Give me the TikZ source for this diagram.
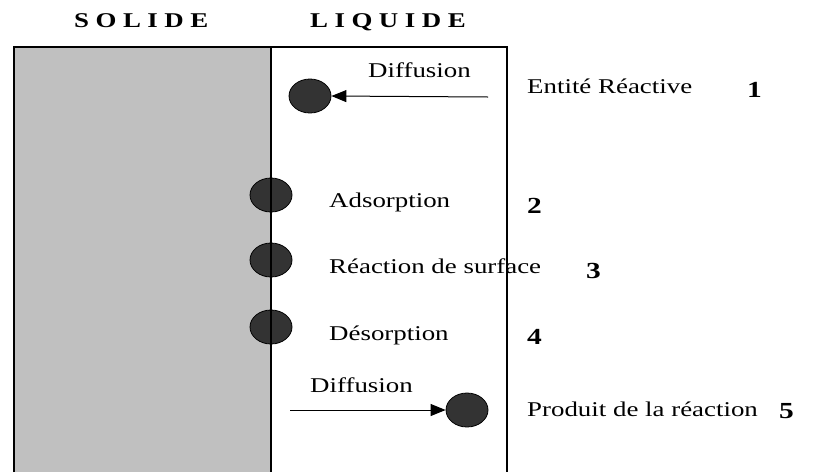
\documentclass[tikz,border=0pt]{standalone}
\usepackage{fontspec}
\setmainfont{Liberation Serif}[FakeStretch=1.28]
\usetikzlibrary{shapes.geometric,arrows.meta}
\definecolor{solidgrey}{HTML}{C0C0C0}
\definecolor{blob}{HTML}{333333}
\tikzset{
  particle/.style={ellipse,draw=black,line width=0.8pt,fill=blob,minimum width=42pt,minimum height=34pt,inner sep=0pt},
  lbl/.style={anchor=base west,inner sep=0pt,font=\fontsize{21}{24}\selectfont},
  num/.style={anchor=base west,inner sep=0pt,font=\fontsize{23}{26}\selectfont\bfseries},
  head/.style={anchor=base west,inner sep=0pt,font=\fontsize{21}{24}\selectfont\bfseries},
  wall/.style={line width=1.5pt,draw=black},
  flow/.style={line width=1pt,-{Triangle[length=15pt,width=12pt]}}
}
\newcommand{\gp}{\hspace{6.5pt}}
\begin{document}
\begin{tikzpicture}[x=1pt,y=-1pt]
\useasboundingbox (0,0) rectangle (821,472);
% solid phase
\fill[solidgrey] (14,47) rectangle (271,472);
% headers
\node[head] (hs) at (74,27) {S\gp O\gp L\gp I\gp D\gp E};
\node[head] (hl) at (310,27) {L\gp I\gp Q\gp U\gp I\gp D\gp E};
% particles
\node[particle] (e1) at (310,96) {};
\node[particle] (e2) at (271,195) {};
\node[particle] (e3) at (271,260) {};
\node[particle] (e4) at (271,327) {};
\node[particle] (e5) at (467,410) {};
% walls
\draw[wall] (14,472) -- (14,47) -- (507,47) -- (507,472);
\draw[wall] (271,47) -- (271,472);
% arrows
\coordinate (c1) at (488,97);
\coordinate (c5) at (290,410);
\draw[flow] (c1) -- (e1.east);
\draw[flow] (c5) -- (e5.west);
% labels
\node[lbl] (d1) at (368,77) {Diffusion};
\node[lbl] (t1) at (527,93) {Entité Réactive};
\node[num] (n1) at (747,97) {1};
\node[lbl] (t2) at (329,207) {Adsorption};
\node[num] (n2) at (527,213) {2};
\node[lbl] (t3) at (329,273) {Réaction de surface};
\node[num] (n3) at (586,278) {3};
\node[lbl] (t4) at (329,340) {Désorption};
\node[num] (n4) at (527,344) {4};
\node[lbl] (d5) at (310,392) {Diffusion};
\node[lbl] (t5) at (527,416) {Produit de la réaction};
\node[num] (n5) at (779,418) {5};
\end{tikzpicture}
\end{document}
